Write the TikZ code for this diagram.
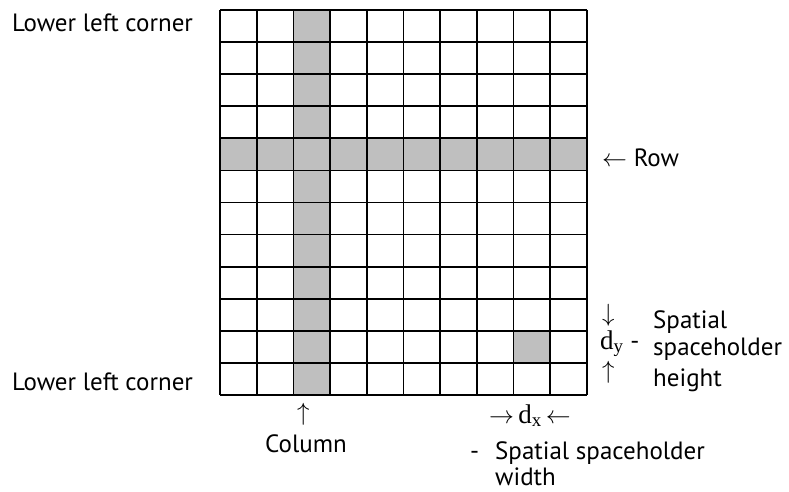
\documentclass[tikz,border=0pt]{standalone}
\usepackage{fontspec}
\setmainfont{PT Sans}
\newfontfamily\serifpart{Liberation Serif}
\usetikzlibrary{positioning}

\newcommand{\dsub}[1]{{\serifpart\fontsize{27}{30}\selectfont d\textsubscript{#1}}}

\begin{document}
\begin{tikzpicture}[x=1pt, y=-1pt, font=\fontsize{25}{28}\selectfont,
  lbl/.style={anchor=base west, inner sep=0pt},
  hilite/.style={fill=black!25},
  gridline/.style={line width=1.7pt}]
  \useasboundingbox (0,0) rectangle (789,492);
  % shaded column, row and one cell
  \fill[hilite] (294.4,10) rectangle ++(36.7,385);
  \fill[hilite] (220,138.3) rectangle ++(367,32.08);
  \fill[hilite] (513.6,330.8) rectangle ++(36.7,32.08);
  % the grid
  \foreach \i in {0,...,10} \draw[gridline] (220+\i*36.7,10) -- ++(0,385);
  \foreach \j in {0,...,12} \draw[gridline] (220,10+\j*32.083) -- ++(367,0);
  % labels
  \node[lbl] (topcorner) at (12,32) {Lower left corner};
  \node[lbl] (botcorner) at (12,390) {Lower left corner};
  \node[lbl] (rowlbl) at (602,166) {$\leftarrow$ Row};
  \node[lbl] (dyup) at (602,321) {$\downarrow$};
  \node[lbl] (dy) at (600,349) {\dsub{y} -};
  \node[lbl] (dydown) at (602,378) {$\uparrow$};
  \node[lbl] (dytext1) at (653,328) {Spatial};
  \node[lbl] (dytext2) at (653,355) {spaceholder};
  \node[lbl] (dytext3) at (653,386) {height};
  \node[lbl] (colarrow) at (297,420) {$\uparrow$};
  \node[lbl] (collbl) at (265,452) {Column};
  \node[lbl] (dx) at (489,423) {$\rightarrow$\,\dsub{x}\,$\leftarrow$};
  \node[lbl] (dxdash) at (470,459) {-};
  \node[lbl] (dxtext1) at (495,459) {Spatial spaceholder};
  \node[lbl] (dxtext2) at (495,485) {width};
\end{tikzpicture}
\end{document}
